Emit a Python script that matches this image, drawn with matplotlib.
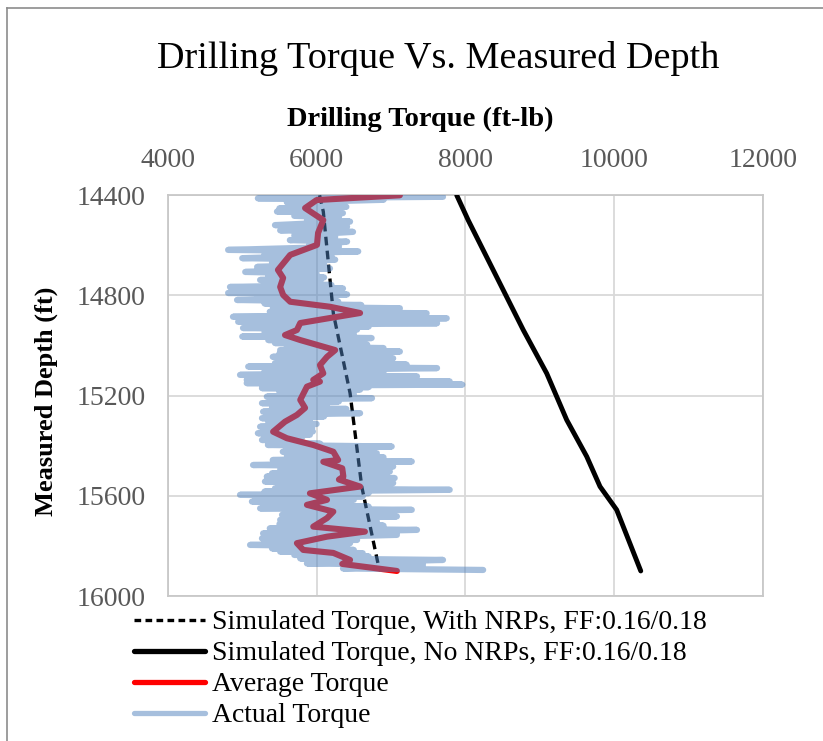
import matplotlib
matplotlib.use("Agg")
import matplotlib.pyplot as plt
from matplotlib.lines import Line2D

plt.rcParams['font.family'] = ['Liberation Serif', 'DejaVu Serif']

# ---------------- data ----------------
# Simulated torque with NRPs (dashed)
sim_nrp_depth = [14400, 14465, 14871, 15190, 15563, 15876, 15900]
sim_nrp_torque = [6040, 6090, 6225, 6450, 6607, 6830, 6860]

# Simulated torque without NRPs (solid black)
sim_no_depth = [14400, 14500, 14938, 15111, 15297, 15443, 15563, 15656, 15900]
sim_no_torque = [7885, 8040, 8780, 9095, 9364, 9633, 9812, 10036, 10360]

# Average torque
avg_depth = [14400, 14419, 14451, 14499, 14550, 14598, 14638, 14698, 14730, 14766,
             14798, 14825, 14845, 14870, 14890, 14910, 14938, 14958, 14978, 15018,
             15045, 15078, 15111, 15137, 15144, 15164, 15217, 15249, 15277, 15304,
             15344, 15370, 15397, 15424, 15457, 15464, 15490, 15523, 15535, 15563,
             15590, 15616, 15636, 15663, 15689, 15723, 15743, 15763, 15789, 15816,
             15828, 15856, 15872, 15900]
avg_torque = [7120, 6000, 5845, 6090, 6020, 6005, 5645, 5480, 5550, 5510,
              5550, 5645, 6180, 6585, 6180, 5780, 5735, 5575, 5780, 6250,
              6140, 6045, 6090, 5955, 6045, 5870, 5780, 5845, 5735, 5575,
              5415, 5600, 5955, 6225, 6290, 6090, 6345, 6360, 6300, 6585,
              5910, 6140, 5870, 6225, 6140, 5955, 6650, 6140, 5735, 5820,
              6225, 6450, 6345, 7080]

# Actual torque: successive low / high readings at each depth band
band_depth = [14400, 14412, 14428, 14440, 14452, 14465, 14482, 14499, 14519, 14540,
              14560, 14579, 14600, 14618, 14635, 14651, 14668, 14686, 14706, 14722,
              14738, 14752, 14766, 14778, 14790, 14804, 14818, 14832, 14845, 14865,
              14885, 14905, 14918, 14930, 14947, 14964, 14978, 14990, 15004, 15018,
              15032, 15045, 15058, 15070, 15084, 15100, 15117, 15137, 15150, 15160,
              15170, 15187, 15204, 15217, 15230, 15247, 15264, 15277, 15290, 15307,
              15324, 15337, 15350, 15364, 15377, 15386, 15397, 15410, 15424, 15440,
              15457, 15477, 15497, 15510, 15523, 15543, 15557, 15570, 15583, 15596,
              15610, 15623, 15637, 15650, 15663, 15676, 15696, 15713, 15730, 15750,
              15770, 15783, 15796, 15810, 15823, 15836, 15850, 15870, 15890]
band_low = [5400, 5210, 5600, 5700, 5500, 5467, 5700, 5870, 5440, 5510,
            5700, 5640, 5900, 4810, 5300, 5000, 5400, 5200, 5040, 5350,
            5240, 5300, 4835, 5100, 4810, 5200, 4930, 5300, 5410, 5370,
            4875, 4945, 5300, 5010, 5300, 5000, 5350, 5440, 5600, 5510,
            5500, 5410, 5600, 5440, 5080, 5300, 4970, 5060, 5060, 5400,
            5265, 5500, 5330, 5500, 5265, 5400, 5280, 5350, 5265, 5350,
            5240, 5300, 5210, 5300, 5265, 5350, 5345, 5600, 5545, 5600,
            5410, 5145, 5510, 5400, 5330, 5305, 5500, 5440, 5300, 4970,
            5300, 5130, 5350, 5240, 5600, 5535, 5510, 5500, 5370, 5280,
            5265, 5300, 5105, 5400, 5510, 5700, 5780, 5870, 6355]
band_high = [7700, 6900, 6300, 6400, 6200, 6354, 6300, 6450, 6410, 6490,
             6250, 6410, 6300, 6560, 6200, 6250, 6100, 6180, 6000, 6100,
             6050, 6200, 6355, 6300, 6410, 6250, 6290, 6600, 7120, 7480,
             7750, 7620, 6700, 6545, 6500, 6740, 6500, 6680, 6900, 7120,
             6800, 7030, 6700, 7210, 7620, 6900, 7350, 7790, 7960, 6700,
             6585, 6500, 6745, 6300, 6140, 6400, 6585, 6100, 5910, 6000,
             5940, 5950, 5910, 5800, 5735, 6050, 7010, 6600, 6810, 6900,
             7280, 7030, 6985, 6800, 7050, 7030, 6800, 7790, 6700, 6620,
             6500, 6315, 6700, 7280, 6900, 7080, 6810, 6900, 7350, 7080,
             6545, 6450, 6410, 6500, 6620, 6700, 7700, 7430, 8240]

x_ticks = [4000, 6000, 8000, 10000, 12000]
y_ticks = [14400, 14800, 15200, 15600, 16000]

# ---------------- build zigzag for actual torque ----------------
act_depth = []
act_torque = []
for d, lo, hi in zip(band_depth, band_low, band_high):
    act_depth += [d, d + 6]
    act_torque += [lo, hi]

# ---------------- figure ----------------
W, H = 823, 741
fig = plt.figure(figsize=(W / 100, H / 100), dpi=100)
ax = fig.add_axes([167.9 / W, 1 - 596 / H, (762.7 - 167.9) / W, (596 - 195.3) / H])

grid_c = '#D9D9D9'
ax.set_xlim(4000, 12000)
ax.set_ylim(16000, 14400)
ax.set_xticks(x_ticks)
ax.set_yticks(y_ticks)
ax.xaxis.tick_top()
ax.grid(True, color=grid_c, linewidth=1.3)
ax.set_axisbelow(True)
for s in ax.spines.values():
    s.set_color('#C8C8C8')
    s.set_linewidth(1.3)
ax.tick_params(length=0, labelsize=20, labelcolor='#595959', pad=16)

ax.plot(sim_nrp_torque, sim_nrp_depth, color='black', lw=2.4,
        linestyle=(0, (2.6, 1.6)), zorder=3)
ax.plot(sim_no_torque, sim_no_depth, color='black', lw=3.5,
        solid_capstyle='round', solid_joinstyle='round', zorder=3)
ax.plot(avg_torque, avg_depth, color='#FF0000', lw=4.4,
        solid_capstyle='round', solid_joinstyle='round', zorder=4)
ax.plot(act_torque, act_depth, color='#4F81BD', alpha=0.5, lw=4.5,
        solid_capstyle='round', solid_joinstyle='round', zorder=5)

fig.text(420 / W, 1 - 119 / H, 'Drilling Torque (ft-lb)', fontsize=20.5,
         fontweight='bold', ha='center', va='center')
fig.text(46 / W, 1 - 401 / H, 'Measured Depth (ft)', fontsize=19,
         fontweight='bold', ha='center', va='center', rotation=90)

fig.text(438 / W, 1 - 59 / H, 'Drilling Torque Vs. Measured Depth', fontsize=27.5,
         ha='center', va='center')

handles = [
    Line2D([], [], color='black', lw=2.4, linestyle=(0, (2.0, 1.3))),
    Line2D([], [], color='black', lw=3.8, solid_capstyle='round'),
    Line2D([], [], color='#FF0000', lw=3.8, solid_capstyle='round'),
    Line2D([], [], color='#4F81BD', alpha=0.5, lw=3.8, solid_capstyle='round'),
]
labels = ['Simulated Torque, With NRPs, FF:0.16/0.18',
          'Simulated Torque, No NRPs, FF:0.16/0.18',
          'Average Torque', 'Actual Torque']
fig.legend(handles, labels, loc='upper left', bbox_to_anchor=(134 / W, 1 - 610 / H),
           frameon=False, fontsize=20, handlelength=2.55, handletextpad=0.25,
           labelspacing=0.2, borderpad=0, borderaxespad=0)

# outer chart border (top and left edges)
fig.add_artist(Line2D([7 / W, 7 / W], [0, 1 - 8 / H], color='#8C8C8C', lw=1.2))
fig.add_artist(Line2D([7 / W, 1], [1 - 8 / H, 1 - 8 / H], color='#8C8C8C', lw=1.2))

fig.savefig('out.png', dpi=100)
